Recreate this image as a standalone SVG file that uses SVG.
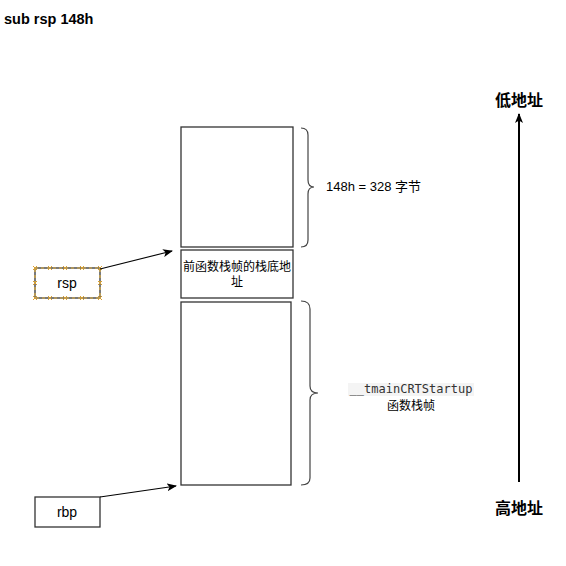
<svg xmlns="http://www.w3.org/2000/svg" width="566" height="566" viewBox="0 0 566 566">
<style>
text{font-family:"Liberation Sans","Noto Sans CJK SC",sans-serif;fill:#000}
.box{fill:#fff;stroke:#333;stroke-width:1.3}
.t12{font-size:12px}
.t13{font-size:13px}
.t14{font-size:14px}
.b{font-weight:bold}
.brace{fill:none;stroke:#444;stroke-width:1.2}
.ln{stroke:#000;stroke-width:1.1;fill:none}
.sel{fill:none;stroke:#e0b040;stroke-width:1.2;stroke-dasharray:3 3}
.h{stroke:#d9a030;stroke-width:1}
</style>
<defs>
<marker id="ah" markerWidth="10" markerHeight="8" refX="9" refY="4" orient="auto" markerUnits="userSpaceOnUse">
<path d="M0,0 L10,4 L0,8 L2.5,4 Z" fill="#000"/>
</marker>
</defs>
<text x="4" y="24" class="b" style="font-size:14.5px">sub rsp 148h</text>
<g id="frame-top">
<rect class="box" x="181" y="127" width="112" height="120"/>
</g>
<g id="prev-bp">
<rect class="box" x="181" y="250" width="112" height="48"/>
<text class="t12" x="237" y="271" text-anchor="middle">前函数栈帧的栈底地</text>
<text class="t12" x="237" y="286" text-anchor="middle">址</text>
</g>
<g id="frame-main">
<rect class="box" x="181" y="302" width="110" height="183"/>
</g>
<g id="brace1">
<path class="brace" d="M301,128 Q308,128 308,135 L308,180 Q308,187 314,187 Q308,187 308,194 L308,240 Q308,247 301,247"/>
<text class="t13" x="326" y="191">148h = 328 字节</text>
</g>
<g id="brace2">
<path class="brace" d="M301,301 Q310,301 310,309 L310,386 Q310,393 318,393 Q310,393 310,400 L310,478 Q310,485 301,485"/>
<rect x="348" y="383" width="126" height="13" fill="#f4f4f4"/>
<text x="411" y="393" text-anchor="middle" style="font-family:'DejaVu Sans Mono','Liberation Mono',monospace;font-size:12px;fill:#333">__tmainCRTStartup</text>
<text class="t12" x="411" y="410" text-anchor="middle">函数栈帧</text>
</g>
<g id="rsp">
<rect class="box" x="35" y="268" width="65" height="30"/>
<rect class="sel" x="35" y="268" width="65" height="30"/>
<g class="h">
<path d="M33,266l4,4M37,266l-4,4M48,266l4,4M52,266l-4,4M63,266l4,4M67,266l-4,4M80,266l4,4M84,266l-4,4M98,266l4,4M102,266l-4,4"/>
<path d="M33,296l4,4M37,296l-4,4M48,296l4,4M52,296l-4,4M63,296l4,4M67,296l-4,4M80,296l4,4M84,296l-4,4M98,296l4,4M102,296l-4,4"/>
<path d="M33,281l4,4M37,281l-4,4M98,281l4,4M102,281l-4,4"/>
</g>
<text class="t14" x="67" y="288" text-anchor="middle">rsp</text>
</g>
<g id="rbp">
<rect class="box" x="35" y="497" width="65" height="30"/>
<text class="t14" x="67" y="517" text-anchor="middle">rbp</text>
</g>
<g id="low">
<text class="b" x="519" y="106" text-anchor="middle" style="font-size:16px">低地址</text>
</g>
<g id="high">
<text class="b" x="519" y="514" text-anchor="middle" style="font-size:16px">高地址</text>
</g>
<g id="connectors">
<path class="ln" d="M100,269 L172,251" marker-end="url(#ah)"/>
<path class="ln" d="M100,497 L176,486" marker-end="url(#ah)"/>
<path d="M519,482 L519,114" stroke="#000" stroke-width="2" marker-end="url(#ah)"/>
</g>
</svg>
